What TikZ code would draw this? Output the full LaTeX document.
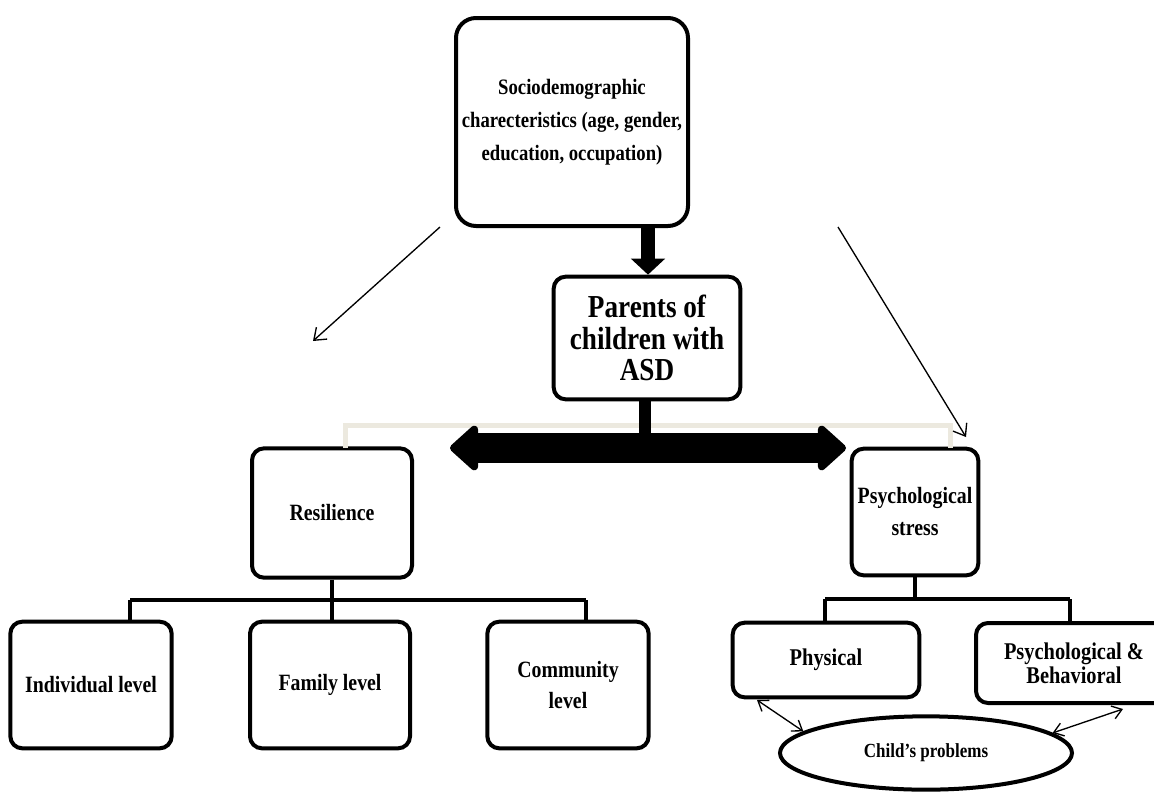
\documentclass[tikz,border=0pt]{standalone}
\usepackage{fontspec}
\setmainfont{Liberation Serif}[FakeStretch=0.85]
\usetikzlibrary{arrows.meta, shapes.geometric}

\begin{document}
\begin{tikzpicture}[x=0.75pt, y=-0.75pt,
    box/.style={draw, line width=3pt, rounded corners=9pt, align=center, font=\bfseries, inner sep=1pt},
    tree/.style={line width=3pt},
    thin/.style={line width=1pt, -{Straight Barb[length=8pt, width=12pt]}},
    both/.style={line width=1pt, {Straight Barb[length=7pt, width=10pt]}-{Straight Barb[length=7pt, width=10pt]}}]
    \useasboundingbox (0, 0) rectangle (1154, 793);

    \node[box, rounded corners=15pt, minimum width=174pt, minimum height=156pt, font=\bfseries\fontsize{16.5}{24.75}\selectfont] (socio) at (572, 122)
        {Sociodemographic\\charecteristics (age, gender,\\education, occupation)};
    \node[box, minimum width=140pt, minimum height=92pt, font=\bfseries\fontsize{24}{23.5}\selectfont] (parents) at (647, 338)
        {Parents of\\children with\\ASD};
    \node[box, minimum width=120pt, minimum height=97pt, font=\bfseries\fontsize{17.5}{24}\selectfont] (resil) at (332, 513) {Resilience};
    \node[box, minimum width=95pt, minimum height=95pt, font=\bfseries\fontsize{17.5}{24}\selectfont] (stress) at (915, 512)
        {Psychological\\stress};

    \node[box, minimum width=121pt, minimum height=95pt, font=\bfseries\fontsize{17.5}{24}\selectfont] (indiv) at (91, 685) {Individual level};
    \node[box, minimum width=120pt, minimum height=95pt, font=\bfseries\fontsize{17.5}{24}\selectfont] (family) at (330, 685) {Family level};
    \node[box, minimum width=121pt, minimum height=95pt, font=\bfseries\fontsize{17.5}{23}\selectfont] (commun) at (568, 685) {Community\\level};

    \node[box, minimum width=140pt, minimum height=56pt, font=\bfseries\fontsize{18}{18}\selectfont] (physical) at (826, 660) {Physical};
    \node[box, minimum width=147pt, minimum height=60pt, font=\bfseries\fontsize{18}{18}\selectfont] (psybeh) at (1074, 663)
        {Psychological \&\\Behavioral};
    \node[draw, ellipse, line width=3pt, minimum width=219pt, minimum height=55pt, font=\bfseries\fontsize{15}{16}\selectfont] (child) at (926, 753)
        {Child’s problems};

    % bracket behind the big arrow
    \coordinate (bl) at (345, 448);
    \coordinate (br) at (950, 448);
    \draw[line width=3.75pt, color={rgb,255:red,236;green,233;blue,223}] (bl) -- (345, 425) -- (950, 425) -- (br);

    % thick arrows
    \draw[line width=10.5pt, -{Triangle[length=12pt, width=25pt]}] (socio.south -| 648, 0) -- (parents.north -| 648, 0);
    \coordinate (stem) at (645, 434);
    \draw[line width=9pt] (parents.south -| 645, 0) -- (stem);
    \coordinate (left) at (450, 448);
    \coordinate (right) at (846, 448);
    \draw[line width=22.5pt, {Triangle[length=22.5pt, width=39pt, round]}-{Triangle[length=22.5pt, width=39pt, round]}] (left) -- (right);

    % thin arrows
    \coordinate (a1) at (440, 227);
    \coordinate (a2) at (313, 341);
    \coordinate (b1) at (838, 227);
    \coordinate (b2) at (966, 437);
    \draw[thin] (a1) -- (a2);
    \draw[thin] (b1) -- (b2);

    % resilience tree
    \draw[tree] (resil.south) -- (332, 600);
    \draw[tree] (130, 600) -- (586, 600);
    \draw[tree] (130, 600) -- (indiv.north -| 130, 0);
    \draw[tree] (332, 600) -- (family.north -| 332, 0);
    \draw[tree] (586, 600) -- (commun.north -| 586, 0);

    % stress tree
    \draw[tree] (stress.south) -- (915, 599);
    \draw[tree] (825, 599) -- (1070, 599);
    \draw[tree] (825, 599) -- (physical.north -| 825, 0);
    \draw[tree] (1070, 599) -- (psybeh.north -| 1070, 0);

    % child's problems
    \coordinate (c1) at (757, 700);
    \coordinate (c2) at (1123, 709);
    \draw[both] (c1) -- (child.170);
    \draw[both] (child.9) -- (c2);
\end{tikzpicture}
\end{document}
